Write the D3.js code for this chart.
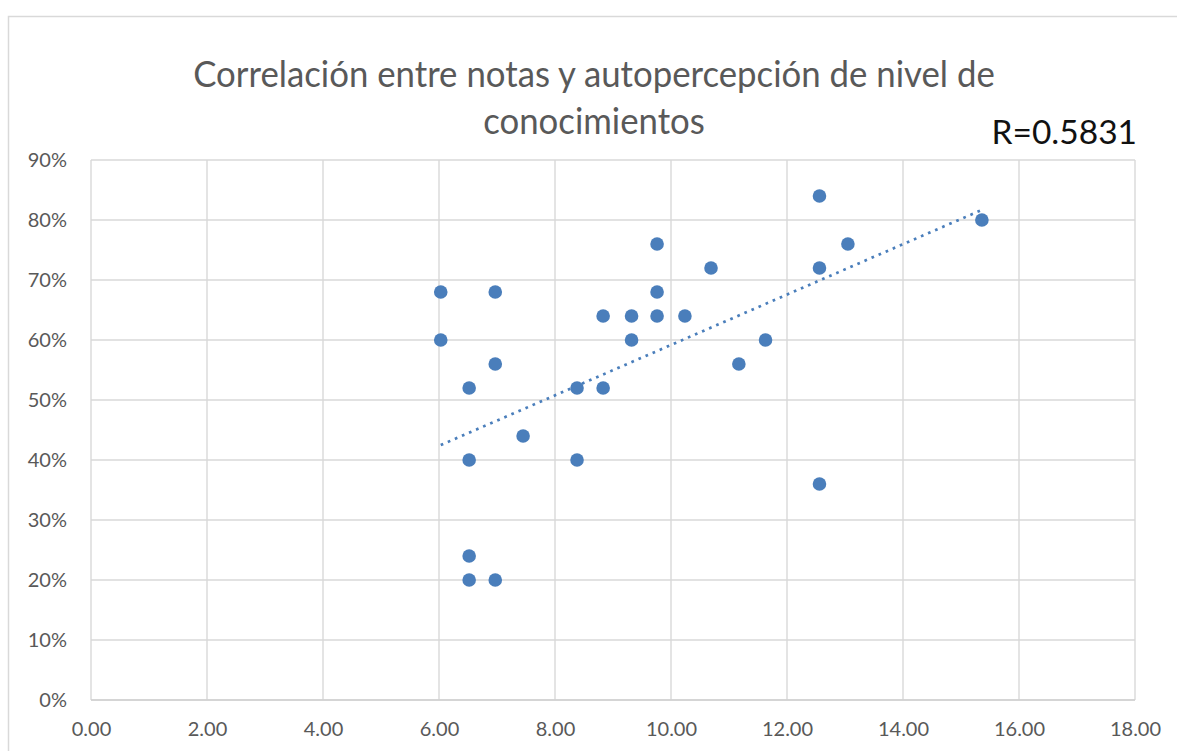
<!DOCTYPE html>
<html>
<head>
<meta charset="utf-8">
<script src="https://cdn.jsdelivr.net/npm/d3@7"></script>
<style>
  body { margin: 0; background: #fff; }
  svg { display: block; }
</style>
</head>
<body>
<svg id="chart" width="1177" height="751"></svg>
<script>
// Final grade of each student (0–20 scale)
const grades = [
  6.03, 6.03,
  6.52, 6.52, 6.52, 6.52,
  6.97, 6.97, 6.97,
  7.45,
  8.38, 8.38,
  8.83, 8.83,
  9.32, 9.32,
  9.76, 9.76, 9.76,
  10.24, 10.69, 11.17, 11.63,
  12.56, 12.56, 12.56,
  13.05, 15.36
];
// Self-assessed level of knowledge, same order as grades
const selfRatings = [
  0.68, 0.60,
  0.52, 0.40, 0.24, 0.20,
  0.68, 0.56, 0.20,
  0.44,
  0.52, 0.40,
  0.64, 0.52,
  0.64, 0.60,
  0.76, 0.68, 0.64,
  0.64, 0.72, 0.56, 0.60,
  0.84, 0.72, 0.36,
  0.76, 0.80
];
const xTicks = [0, 2, 4, 6, 8, 10, 12, 14, 16, 18];
const yTicks = [0, 0.1, 0.2, 0.3, 0.4, 0.5, 0.6, 0.7, 0.8, 0.9];

// Linear trend line coefficients
const trendSlope = 0.0420;
const trendIntercept = 0.1717;

const titleLines = ["Correlación entre notas y autopercepción de nivel de", "conocimientos"];
const rLabel = "R=0.5831";

const FONT = "Lato, 'Open Sans', sans-serif";
const svg = d3.select("#chart");
const W = 1177, H = 751;
const plot = { left: 91, right: 1135, top: 160, bottom: 700 };

svg.append("rect").attr("width", W).attr("height", H).attr("fill", "#fff");

// chart area frame
svg.append("rect")
  .attr("x", 8.5).attr("y", 16.5)
  .attr("width", 1250).attr("height", 800)
  .attr("fill", "#fff")
  .attr("stroke", "#d9d9d9").attr("stroke-width", 1.5);

const x = d3.scaleLinear().domain([0, 18]).range([plot.left, plot.right]);
const y = d3.scaleLinear().domain([0, 0.9]).range([plot.bottom, plot.top]);

// gridlines
const grid = svg.append("g").attr("stroke", "#d9d9d9").attr("stroke-width", 1.4);
grid.selectAll("line.v").data(xTicks).join("line")
  .attr("class", "v")
  .attr("x1", d => x(d)).attr("x2", d => x(d))
  .attr("y1", plot.top).attr("y2", plot.bottom);
grid.selectAll("line.h").data(yTicks).join("line")
  .attr("class", "h")
  .attr("x1", plot.left).attr("x2", plot.right)
  .attr("y1", d => y(d)).attr("y2", d => y(d));

// axes (labels only; lines come from the grid)
const xAxis = d3.axisBottom(x).tickValues(xTicks).tickFormat(d3.format(".2f")).tickSize(0).tickPadding(22);
const yAxis = d3.axisLeft(y).tickValues(yTicks).tickFormat(d3.format(".0%")).tickSize(0).tickPadding(24);

const gx = svg.append("g").attr("transform", `translate(0,${plot.bottom})`).call(xAxis);
const gy = svg.append("g").attr("transform", `translate(${plot.left},0)`).call(yAxis);
[gx, gy].forEach(g => {
  g.select(".domain").remove();
  g.selectAll("text")
    .attr("fill", "#595959")
    .style("font-family", FONT)
    .style("font-size", "20px");
});

// bottom axis line
svg.append("line")
  .attr("x1", plot.left).attr("x2", plot.right)
  .attr("y1", plot.bottom).attr("y2", plot.bottom)
  .attr("stroke", "#d0d0d0").attr("stroke-width", 1.6);

// trend line across the range of grades
const [gMin, gMax] = d3.extent(grades);
svg.append("line")
  .attr("x1", x(gMin)).attr("y1", y(trendSlope * gMin + trendIntercept))
  .attr("x2", x(gMax)).attr("y2", y(trendSlope * gMax + trendIntercept))
  .attr("stroke", "#4a7ebb")
  .attr("stroke-width", 2.7)
  .attr("stroke-dasharray", "2.7 5");

// scatter points
svg.append("g").selectAll("circle")
  .data(grades.map((g, i) => [g, selfRatings[i]]))
  .join("circle")
  .attr("cx", d => x(d[0]))
  .attr("cy", d => y(d[1]))
  .attr("r", 6.8)
  .attr("fill", "#4a7ebb");

// title, condensed horizontally to a Calibri-like width
const titleG = svg.append("g");
const t1 = titleG.append("text")
  .attr("x", 0).attr("y", 87)
  .attr("text-anchor", "middle")
  .attr("fill", "#595959")
  .style("font-family", FONT)
  .style("font-size", "36px")
  .text(titleLines[0]);
titleG.append("text")
  .attr("x", 0).attr("y", 134)
  .attr("text-anchor", "middle")
  .attr("fill", "#595959")
  .style("font-family", FONT)
  .style("font-size", "36px")
  .text(titleLines[1]);
const sx = 802 / t1.node().getComputedTextLength();
titleG.attr("transform", `translate(594,0) scale(${sx},1)`);

// correlation coefficient
svg.append("text")
  .attr("x", 1137).attr("y", 144)
  .attr("text-anchor", "end")
  .attr("fill", "#111")
  .style("font-family", FONT)
  .style("font-size", "33.5px")
  .text(rLabel);
</script>
</body>
</html>
